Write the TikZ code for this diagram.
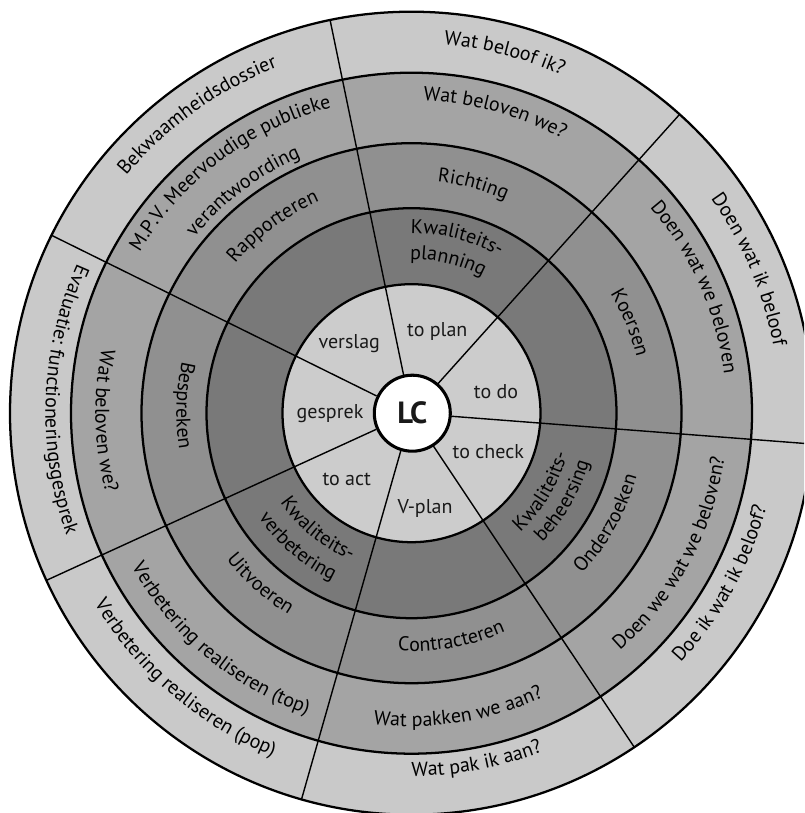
\documentclass[tikz,border=0pt]{standalone}
\usepackage{fontspec}
\setmainfont{PT Sans}
\usetikzlibrary{decorations.text}
\definecolor{ringout}{gray}{0.79}
\definecolor{ringtwo}{gray}{0.645}
\definecolor{ringthree}{gray}{0.565}
\definecolor{ringdark}{gray}{0.475}
\definecolor{ringin}{gray}{0.80}
\definecolor{ink}{gray}{0.1}
\tikzset{
  ringline/.style={line width=1.7pt, black},
  spoke/.style={line width=1.05pt, black},
  innerlabel/.style={inner sep=0pt, text=ink},
}
\newcommand{\cwlabel}[3]{\path[decorate,decoration={text along path,text align=center,text={#3}}] ({#2+80}:#1) arc[start angle={#2+80}, end angle={#2-80}, radius=#1];}
\newcommand{\ccwlabel}[3]{\path[decorate,decoration={text along path,text align=center,text={#3}}] ({#2-80}:#1) arc[start angle={#2-80}, end angle={#2+80}, radius=#1];}
\begin{document}
\begin{tikzpicture}[x=0.75pt,y=0.75pt]
\fontsize{15pt}{18pt}\selectfont
\useasboundingbox (-411.5,-399.8) rectangle (392.5,413.2);
\begin{scope}
\clip (-411.5,-399.8) rectangle (392.5,413.2);
\fill[white] (-411.5,-399.8) rectangle (392.5,413.2);
\fill[ringout] (0,0) circle[radius=401.5];
\fill[ringtwo] (0,0) circle[radius=340.5];
\fill[ringthree] (0,0) circle[radius=270];
\fill[ringdark] (0,0) circle[radius=205];
\fill[ringin] (0,0) circle[radius=129];
\foreach \a in {101.7,48.1,-4.4,-56.3,-105.9,-155.4,153.7}
  \draw[spoke] (\a:39) -- (\a:401.5);
\foreach \r in {401.5,340.5,270,205,129}
  \draw[ringline] (0,0) circle[radius=\r];
\end{scope}
\node[circle, draw, line width=2.3pt, fill=white, minimum size=57pt, inner sep=0pt,
      font=\fontsize{23pt}{26pt}\selectfont\bfseries, text=ink] (lc) at (0.8,0) {LC};
\node[innerlabel] (verslag) at (-62.2,69.9) {verslag};
\node[innerlabel] (toplan) at (25.8,81.5) {to plan};
\node[innerlabel] (todo) at (84.5,21.5) {to do};
\node[innerlabel] (tocheck) at (76.8,-38.5) {to check};
\node[innerlabel] (vplan) at (13.5,-95.1) {V-plan};
\node[innerlabel] (toact) at (-64.8,-66.1) {to act};
\node[innerlabel] (gesprek) at (-81.5,-0.1) {gesprek};
\color{ink}
% sector A
\cwlabel{370}{75.5}{Wat beloof ik?}
\cwlabel{313}{74.5}{Wat beloven we?}
\cwlabel{233}{74.9}{Richting}
\cwlabel{180}{75.5}{Kwaliteits-}
\cwlabel{154}{76.5}{planning}
% sector B
\cwlabel{368}{23}{Doen wat ik beloof}
\cwlabel{315}{24}{Doen wat we beloven}
\cwlabel{232}{22.5}{Koersen}
% sector C
\ccwlabel{367}{-28.8}{Doe ik wat ik beloof?}
\ccwlabel{316}{-28.4}{Doen we wat we beloven?}
\ccwlabel{234}{-29.5}{Onderzoeken}
\ccwlabel{161}{-31}{Kwaliteits-}
\ccwlabel{184}{-30}{beheersing}
% sector D
\ccwlabel{363}{-79.4}{Wat pak ik aan?}
\ccwlabel{313}{-81}{Wat pakken we aan?}
\ccwlabel{238}{-80}{Contracteren}
% sector E
\ccwlabel{370}{-130.5}{Verbetering realiseren (pop)}
\ccwlabel{319}{-130.2}{Verbetering realiseren (top)}
\ccwlabel{236}{-131.5}{Uitvoeren}
\ccwlabel{159}{-129}{Kwaliteits-}
\ccwlabel{185}{-130.5}{verbetering}
% sector F
\ccwlabel{366}{177.7}{Evaluatie: functioneringsgesprek}
\ccwlabel{316}{181.5}{Wat beloven we?}
\ccwlabel{235}{178}{Bespreken}
% sector G
\cwlabel{371}{125.7}{Bekwaamheidsdossier}
\cwlabel{316}{127}{M.P.V. Meervoudige publieke}
\cwlabel{279}{127.2}{verantwoording}
\cwlabel{231}{126.6}{Rapporteren}
\end{tikzpicture}
\end{document}
